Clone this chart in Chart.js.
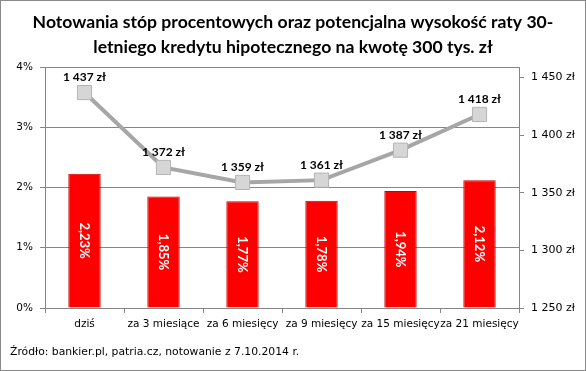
<!DOCTYPE html>
<html><head><meta charset="utf-8">
<script src="https://cdn.jsdelivr.net/npm/chart.js@4/dist/chart.umd.min.js"></script>
<style>html,body{margin:0;padding:0;background:#fff}#wrap{width:586px;height:371px}</style>
</head><body><div id="wrap"><canvas id="c" width="586" height="371"></canvas></div>
<script>
const categories = ['dziś','za 3 miesiące','za 6 miesięcy','za 9 miesięcy','za 15 miesięcy','za 21 miesięcy'];
const rates = [2.23, 1.85, 1.77, 1.78, 1.94, 2.12];
const installments = [1437, 1372, 1359, 1361, 1387, 1418];
const leftTicks = [0, 1, 2, 3, 4];
const rightTicks = [1250, 1300, 1350, 1400, 1450];
const titleLines = ['Notowania stóp procentowych oraz potencjalna wysokość raty 30-', 'letniego kredytu hipotecznego na kwotę 300 tys. zł'];
const sourceText = 'Źródło: bankier.pl, patria.cz, notowanie z 7.10.2014 r.';

const fmtZl = v => String(v).replace(/\B(?=(\d{3})+(?!\d))/g, ' ') + ' zł';
const fmtPct = v => v.toFixed(2).replace('.', ',') + '%';

const decor = {
  id: 'decor',
  beforeDraw(chart) {
    const ctx = chart.ctx;
    ctx.save();
    ctx.fillStyle = '#fff';
    ctx.fillRect(0, 0, chart.width, chart.height);
    ctx.restore();
  },
  afterDatasetsDraw(chart) {
    const ctx = chart.ctx;
    ctx.save();
    const barMeta = chart.getDatasetMeta(0);
    ctx.font = 'bold 13px Lato';
    ctx.fillStyle = '#fff';
    ctx.textAlign = 'center';
    ctx.textBaseline = 'middle';
    barMeta.data.forEach((el, i) => {
      const cy = (el.y + el.base) / 2;
      ctx.save();
      ctx.translate(el.x, cy);
      ctx.rotate(Math.PI / 2);
      ctx.fillText(fmtPct(rates[i]), 0, 0);
      ctx.restore();
    });
    const lineMeta = chart.getDatasetMeta(1);
    ctx.fillStyle = '#000';
    ctx.font = 'bold 12px Lato';
    lineMeta.data.forEach((el, i) => {
      ctx.fillText(fmtZl(installments[i]), el.x, el.y - 15);
    });
    ctx.restore();
  },
  afterDraw(chart) {
    const ctx = chart.ctx;
    ctx.save();
    ctx.fillStyle = '#000';
    ctx.textAlign = 'center';
    ctx.textBaseline = 'middle';
    ctx.font = 'bold 17.6px Lato';
    ctx.fillText(titleLines[0], 293, 22);
    ctx.fillText(titleLines[1], 293, 47);
    ctx.textAlign = 'left';
    ctx.font = '10.8px "DejaVu Sans"';
    ctx.fillText(sourceText, 10, 352);
    ctx.strokeStyle = '#8a8a8a';
    ctx.lineWidth = 1;
    ctx.strokeRect(0.5, 0.5, chart.width - 1, chart.height - 1);
    ctx.restore();
  }
};

const tickFont = { family: 'DejaVu Sans', size: 10.5 };
new Chart(document.getElementById('c'), {
  data: {
    labels: categories,
    datasets: [
      {
        type: 'bar', label: 'stopa', data: rates, yAxisID: 'y',
        backgroundColor: '#ff0000', borderColor: '#c80000', borderWidth: 1,
        barPercentage: 0.41, categoryPercentage: 1, order: 2
      },
      {
        type: 'line', label: 'rata', data: installments, yAxisID: 'y2',
        borderColor: '#a6a6a6', borderWidth: 4, tension: 0,
        pointStyle: 'rect', pointRadius: 10, pointHoverRadius: 10,
        pointBackgroundColor: '#d6d6d6', pointBorderColor: '#b4b4b4', pointBorderWidth: 1,
        order: 1
      }
    ]
  },
  options: {
    responsive: false, animation: false, devicePixelRatio: 1,
    layout: { padding: { top: 67, bottom: 0, left: 0, right: 0 } },
    plugins: { legend: { display: false }, tooltip: { enabled: false } },
    scales: {
      x: {
        offset: true,
        grid: { display: true, offset: true, drawOnChartArea: false, color: '#868686', tickLength: 5 },
        border: { color: '#868686' },
        ticks: { font: tickFont, color: '#000', maxRotation: 0, minRotation: 0, autoSkip: false, padding: 5 },
        afterFit(s) { s.height = 63; }
      },
      y: {
        position: 'left', min: 0, max: 4,
        afterBuildTicks(s) { s.ticks = leftTicks.map(v => ({ value: v })); },
        grid: { color: '#868686', tickLength: 5 },
        border: { color: '#868686' },
        ticks: { font: tickFont, color: '#000', padding: 7, callback: v => v + '%' },
        afterFit(s) { s.width = 45; }
      },
      y2: {
        position: 'right', min: 1250, max: 1459.2,
        afterBuildTicks(s) { s.ticks = rightTicks.map(v => ({ value: v })); },
        grid: { drawOnChartArea: false, color: '#868686', tickLength: 5 },
        border: { color: '#868686' },
        ticks: { font: { family: 'DejaVu Sans', size: 11 }, color: '#000', padding: 7, callback: v => fmtZl(v) },
        afterFit(s) { s.width = 67; }
      }
    }
  },
  plugins: [decor]
});
</script></body></html>
